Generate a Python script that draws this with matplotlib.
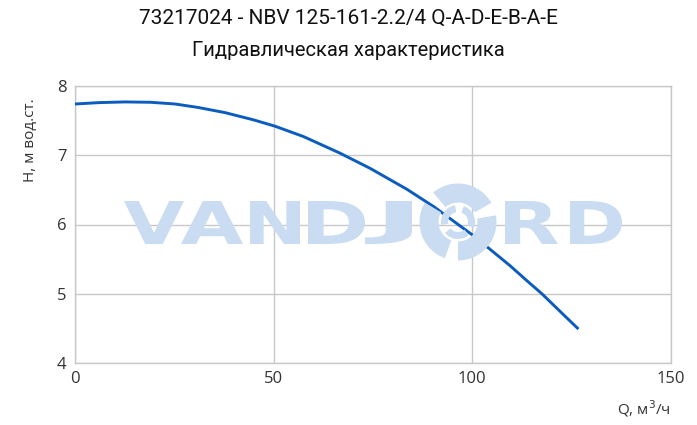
import matplotlib
matplotlib.use("Agg")
import matplotlib.pyplot as plt
from matplotlib.textpath import TextPath
from matplotlib.patches import PathPatch, Wedge
from matplotlib.font_manager import FontProperties
from matplotlib.transforms import Affine2D

# данные
flow = [0, 6, 12.6, 19, 25.2, 31, 37.8, 45, 50.3, 57.5, 66.7, 74.3, 83.5, 90.5, 95, 100,
        104.5, 109.6, 113.5, 117.5, 122, 126.7]
head = [7.74, 7.76, 7.77, 7.765, 7.74, 7.69, 7.615, 7.51, 7.42, 7.27, 7.03, 6.81, 6.51,
        6.25, 6.06, 5.85, 5.64, 5.40, 5.20, 5.00, 4.75, 4.49]
x_ticks = [0, 50, 100, 150]
y_ticks = [4, 5, 6, 7, 8]

title = "73217024 - NBV 125-161-2.2/4 Q-A-D-E-B-A-E"
subtitle = "Гидравлическая характеристика"

curve_color = "#0a5cbf"
grid_color = "#c8c8c8"
mark_color = "#c9dcf1"

fig = plt.figure(figsize=(6.97, 4.25), dpi=100)
ax = fig.add_axes([75 / 697, 1 - 363 / 425, 596 / 697, 277 / 425])

fig.text(0.5, 1 - 18 / 425, title, ha="center", va="center",
         fontsize=15, family="Roboto", color="#111111")
fig.text(0.5, 1 - 51 / 425, subtitle, ha="center", va="center",
         fontsize=14.5, family="Roboto", color="#111111")

# водяной знак VANDJORD (в дюймах фигуры)
font = FontProperties(family="DejaVu Sans", weight="bold")
letters = [("V", 124, 184), ("A", 181, 243), ("N", 250, 300), ("D", 308, 365),
           ("J", 365, 412), ("R", 505, 558), ("D", 570, 622)]
top_px, bot_px = 201, 244
for ch, x0, x1 in letters:
    tp = TextPath((0, 0), ch, size=1, prop=font)
    ext = tp.get_extents()
    sx = (x1 - x0) / 100 / ext.width
    sy = (bot_px - top_px) / 100 / ext.height
    tr = (Affine2D().translate(-ext.x0, -ext.y0).scale(sx, sy)
          .translate(x0 / 100, (425 - bot_px) / 100) + fig.dpi_scale_trans)
    fig.patches.append(PathPatch(tp, transform=tr, color=mark_color, lw=0, zorder=0.5))

cx, cy = 4.58, (425 - 222) / 100
for ang in (30, 150, 270):
    fig.patches.append(Wedge((cx, cy), 0.385, ang, ang + 100, width=0.19,
                             transform=fig.dpi_scale_trans, color=mark_color, lw=0, zorder=0.5))
    fig.patches.append(Wedge((cx, cy), 0.17, ang + 70, ang + 160, width=0.07,
                             transform=fig.dpi_scale_trans, color=mark_color, lw=0, zorder=0.5))

ax.set_facecolor("none")
ax.plot(flow, head, color=curve_color, lw=2.1, zorder=3, solid_capstyle="butt",
        solid_joinstyle="round")

ax.set_xlim(0, 150)
ax.set_ylim(4, 8)
ax.set_xticks(x_ticks)
ax.set_yticks(y_ticks)
ax.grid(True, color=grid_color, lw=1.0, zorder=1)
ax.set_axisbelow(False)
for s in ax.spines.values():
    s.set_color(grid_color)
    s.set_linewidth(1.0)
ax.tick_params(length=0, labelsize=12, colors="#333333", pad=6)
for lab in ax.get_xticklabels() + ax.get_yticklabels():
    lab.set_family("Open Sans")

ax.set_xlabel("Q, м$^3$/ч", loc="right", fontsize=11, family="Open Sans",
              color="#333333", labelpad=8)
ax.set_ylabel("Н, м вод.ст.", loc="top", fontsize=11, family="Open Sans",
              color="#333333")
ax.yaxis.set_label_coords(-0.062, 0.955)

fig.savefig("out.png", dpi=100)
